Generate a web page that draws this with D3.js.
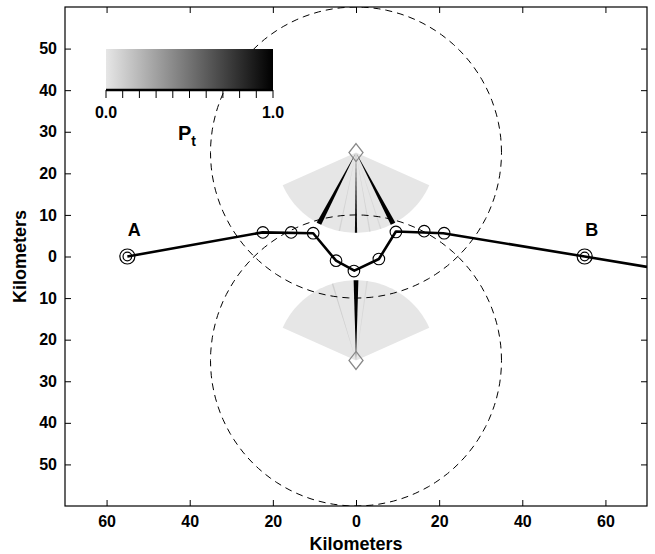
<!DOCTYPE html>
<html>
<head>
<meta charset="utf-8">
<script src="https://cdn.jsdelivr.net/npm/d3@7"></script>
<style>
  body { margin: 0; background: #fff; }
  text { font-family: "Liberation Sans", Arial, sans-serif; font-weight: bold; }
</style>
</head>
<body>
<div id="chart"></div>
<script>
// track of the storm (km)
const trackX = [-55, -22.5, -10.3, -4.8, -0.4, 5.5, 9.6, 21, 55, 70]
const trackY = [0, 5.8, 5.6, -1.0, -3.4, -0.6, 6.0, 5.6, 0, -2.5]

// observation points along the track
const obsX = [-22.4, -15.6, -10.3, -4.8, -0.5, 5.5, 9.6, 16.4, 21.2]
const obsY = [5.8, 5.8, 5.6, -1.0, -3.5, -0.6, 5.9, 6.1, 5.6]

// end points
const endNames = ["A", "B"]
const endX = [-55, 55]
const endY = [0, 0]

// radars: position, range ring, scan sector (deg from pointing direction)
const radarX = [0, 0]
const radarY = [25, -25]
const radarDir = [-1, 1]   // -1 scans downward, 1 upward
const ringRadius = 35
const scanRadius = 19.3
const scanHalf = 66

// beams: radar index, azimuth (deg), beam width (deg), Pt
const beamRadar = [0, 0, 0, 0, 0, 0, 1, 1, 1]
const beamAz = [-27.5, 0, 27.5, -12, 10, 18, 0, -17, 8]
const beamWidth = [3.6, 1.6, 3.6, 1, 1, 1, 3.4, 1, 1]
const beamPt = [1.0, 0.95, 1.0, 0.08, 0.08, 0.06, 1.0, 0.1, 0.06]

const xTicks = [-60, -40, -20, 0, 20, 40, 60]
const yTicks = [-50, -40, -30, -20, -10, 0, 10, 20, 30, 40, 50]
const ptTicks = d3.range(0, 1.0001, 0.1)

const W = 655, H = 554
const frame = { left: 65, top: 7, right: 647, bottom: 506 }

const svg = d3.select("#chart").append("svg")
    .attr("width", W).attr("height", H)

const x = d3.scaleLinear().domain([-70, 70]).range([frame.left, frame.right])
const y = d3.scaleLinear().domain([-60, 60]).range([frame.bottom, frame.top])
const shade = d3.scaleLinear().domain([0, 1]).range(["#e6e6e6", "#000000"])

svg.append("clipPath").attr("id", "plotClip")
    .append("rect")
    .attr("x", frame.left).attr("y", frame.top)
    .attr("width", frame.right - frame.left).attr("height", frame.bottom - frame.top)

const plot = svg.append("g").attr("clip-path", "url(#plotClip)")

const line = d3.line().x(d => x(d[0])).y(d => y(d[1]))

// sector polygon in km coords
function sector(i, a0, a1, r) {
    const pts = [[radarX[i], radarY[i]]]
    const n = Math.max(4, Math.ceil(Math.abs(a1 - a0) / 2))
    for (let k = 0; k <= n; k++) {
        const a = (a0 + (a1 - a0) * k / n) * Math.PI / 180
        pts.push([radarX[i] + r * Math.sin(a), radarY[i] + radarDir[i] * r * Math.cos(a)])
    }
    pts.push([radarX[i], radarY[i]])
    return line(pts)
}

// scan sectors
plot.selectAll("path.scan")
    .data(radarX)
    .enter().append("path")
    .attr("class", "scan")
    .attr("d", (d, i) => sector(i, -scanHalf, scanHalf, scanRadius))
    .attr("fill", shade(0))

// beams (sorted so strongest drawn on top)
const beams = beamAz.map((a, i) => ({ r: beamRadar[i], az: a, w: beamWidth[i], pt: beamPt[i] }))
    .sort((a, b) => d3.ascending(a.pt, b.pt))
plot.selectAll("path.beam")
    .data(beams)
    .enter().append("path")
    .attr("class", "beam")
    .attr("d", d => sector(d.r, d.az - d.w / 2, d.az + d.w / 2, scanRadius))
    .attr("fill", d => shade(d.pt))

// range rings
const ring = d3.range(0, 361, 3).map(a => a * Math.PI / 180)
plot.selectAll("path.ring")
    .data(radarX)
    .enter().append("path")
    .attr("class", "ring")
    .attr("d", (d, i) => line(ring.map(a => [radarX[i] + ringRadius * Math.cos(a), radarY[i] + ringRadius * Math.sin(a)])))
    .attr("fill", "none")
    .attr("stroke", "#000")
    .attr("stroke-width", 1)
    .attr("stroke-dasharray", "7,5")

// radar diamonds
plot.selectAll("path.radar")
    .data(radarX)
    .enter().append("path")
    .attr("d", (d, i) => {
        const cx = x(radarX[i]), cy = y(radarY[i])
        return `M${cx},${cy - 9}L${cx + 7},${cy}L${cx},${cy + 9}L${cx - 7},${cy}Z`
    })
    .attr("fill", "none")
    .attr("stroke", "#888")
    .attr("stroke-width", 1.3)

// track
plot.append("path")
    .attr("d", line(trackX.map((v, i) => [v, trackY[i]])))
    .attr("fill", "none")
    .attr("stroke", "#000")
    .attr("stroke-width", 2.6)
    .attr("stroke-linejoin", "round")

plot.selectAll("circle.obs")
    .data(obsX)
    .enter().append("circle")
    .attr("cx", d => x(d))
    .attr("cy", (d, i) => y(obsY[i]))
    .attr("r", 5.8)
    .attr("fill", "none")
    .attr("stroke", "#000")
    .attr("stroke-width", 1.1)

// end markers
endX.forEach((v, i) => {
    const g = plot.append("g")
    g.append("circle").attr("cx", x(v)).attr("cy", y(endY[i])).attr("r", 7.5)
        .attr("fill", "none").attr("stroke", "#000").attr("stroke-width", 1.2)
    g.append("circle").attr("cx", x(v)).attr("cy", y(endY[i])).attr("r", 4.3)
        .attr("fill", "none").attr("stroke", "#000").attr("stroke-width", 1.2)
    svg.append("text")
        .attr("x", x(v) + 7).attr("y", y(endY[i]) - 21)
        .attr("text-anchor", "middle")
        .attr("font-size", 18)
        .text(endNames[i])
})

// axes with inward ticks
const fmt = d => Math.abs(d)
svg.append("g").attr("transform", `translate(${frame.left},0)`)
    .call(d3.axisLeft(y).tickValues(yTicks).tickSize(-6).tickPadding(8).tickFormat(fmt))
svg.append("g").attr("transform", `translate(${frame.right},0)`)
    .call(d3.axisRight(y).tickValues(yTicks).tickSize(-6).tickFormat(""))
svg.append("g").attr("transform", `translate(0,${frame.bottom})`)
    .call(d3.axisBottom(x).tickValues(xTicks).tickSize(-6).tickPadding(10).tickFormat(fmt))
svg.append("g").attr("transform", `translate(0,${frame.top})`)
    .call(d3.axisTop(x).tickValues(xTicks).tickSize(-6).tickFormat(""))

svg.selectAll(".domain").remove()
svg.selectAll(".tick line").attr("stroke", "#000")
svg.selectAll(".tick text")
    .attr("font-size", 16)
    .attr("font-family", "Liberation Sans, Arial, sans-serif")
    .attr("font-weight", "bold")
    .attr("fill", "#000")

svg.append("rect")
    .attr("x", frame.left).attr("y", frame.top)
    .attr("width", frame.right - frame.left).attr("height", frame.bottom - frame.top)
    .attr("fill", "none").attr("stroke", "#000").attr("stroke-width", 1.2)

svg.append("text")
    .attr("x", x(0)).attr("y", 550)
    .attr("text-anchor", "middle")
    .attr("font-size", 18)
    .text("Kilometers")

svg.append("text")
    .attr("transform", `translate(26,${y(0)}) rotate(-90)`)
    .attr("text-anchor", "middle")
    .attr("font-size", 18)
    .text("Kilometers")

// colour bar
const cb = { x0: 106, x1: 273, y0: 49, y1: 90 }
const grad = svg.append("defs").append("linearGradient").attr("id", "ptGrad")
grad.selectAll("stop")
    .data(ptTicks)
    .enter().append("stop")
    .attr("offset", d => d)
    .attr("stop-color", d => shade(d))
svg.append("rect")
    .attr("x", cb.x0).attr("y", cb.y0)
    .attr("width", cb.x1 - cb.x0).attr("height", cb.y1 - cb.y0)
    .attr("fill", "url(#ptGrad)")

const cx = d3.scaleLinear().domain([0, 1]).range([cb.x0, cb.x1])
svg.append("line")
    .attr("x1", cb.x0).attr("x2", cb.x1).attr("y1", cb.y1).attr("y2", cb.y1)
    .attr("stroke", "#000").attr("stroke-width", 2.5)
svg.selectAll("line.cbtick")
    .data(ptTicks)
    .enter().append("line")
    .attr("x1", d => cx(d)).attr("x2", d => cx(d))
    .attr("y1", cb.y1).attr("y2", cb.y1 + 8)
    .attr("stroke", "#000").attr("stroke-width", 1)
svg.selectAll("text.cblab")
    .data([0, 1])
    .enter().append("text")
    .attr("x", d => cx(d)).attr("y", cb.y1 + 28)
    .attr("text-anchor", "middle")
    .attr("font-size", 16)
    .text(d => d.toFixed(1))

const ptLab = svg.append("text")
    .attr("x", 178).attr("y", 140)
    .attr("font-size", 20)
ptLab.append("tspan").text("P")
ptLab.append("tspan").attr("dy", 6).attr("font-size", 14).text("t")
</script>
</body>
</html>
